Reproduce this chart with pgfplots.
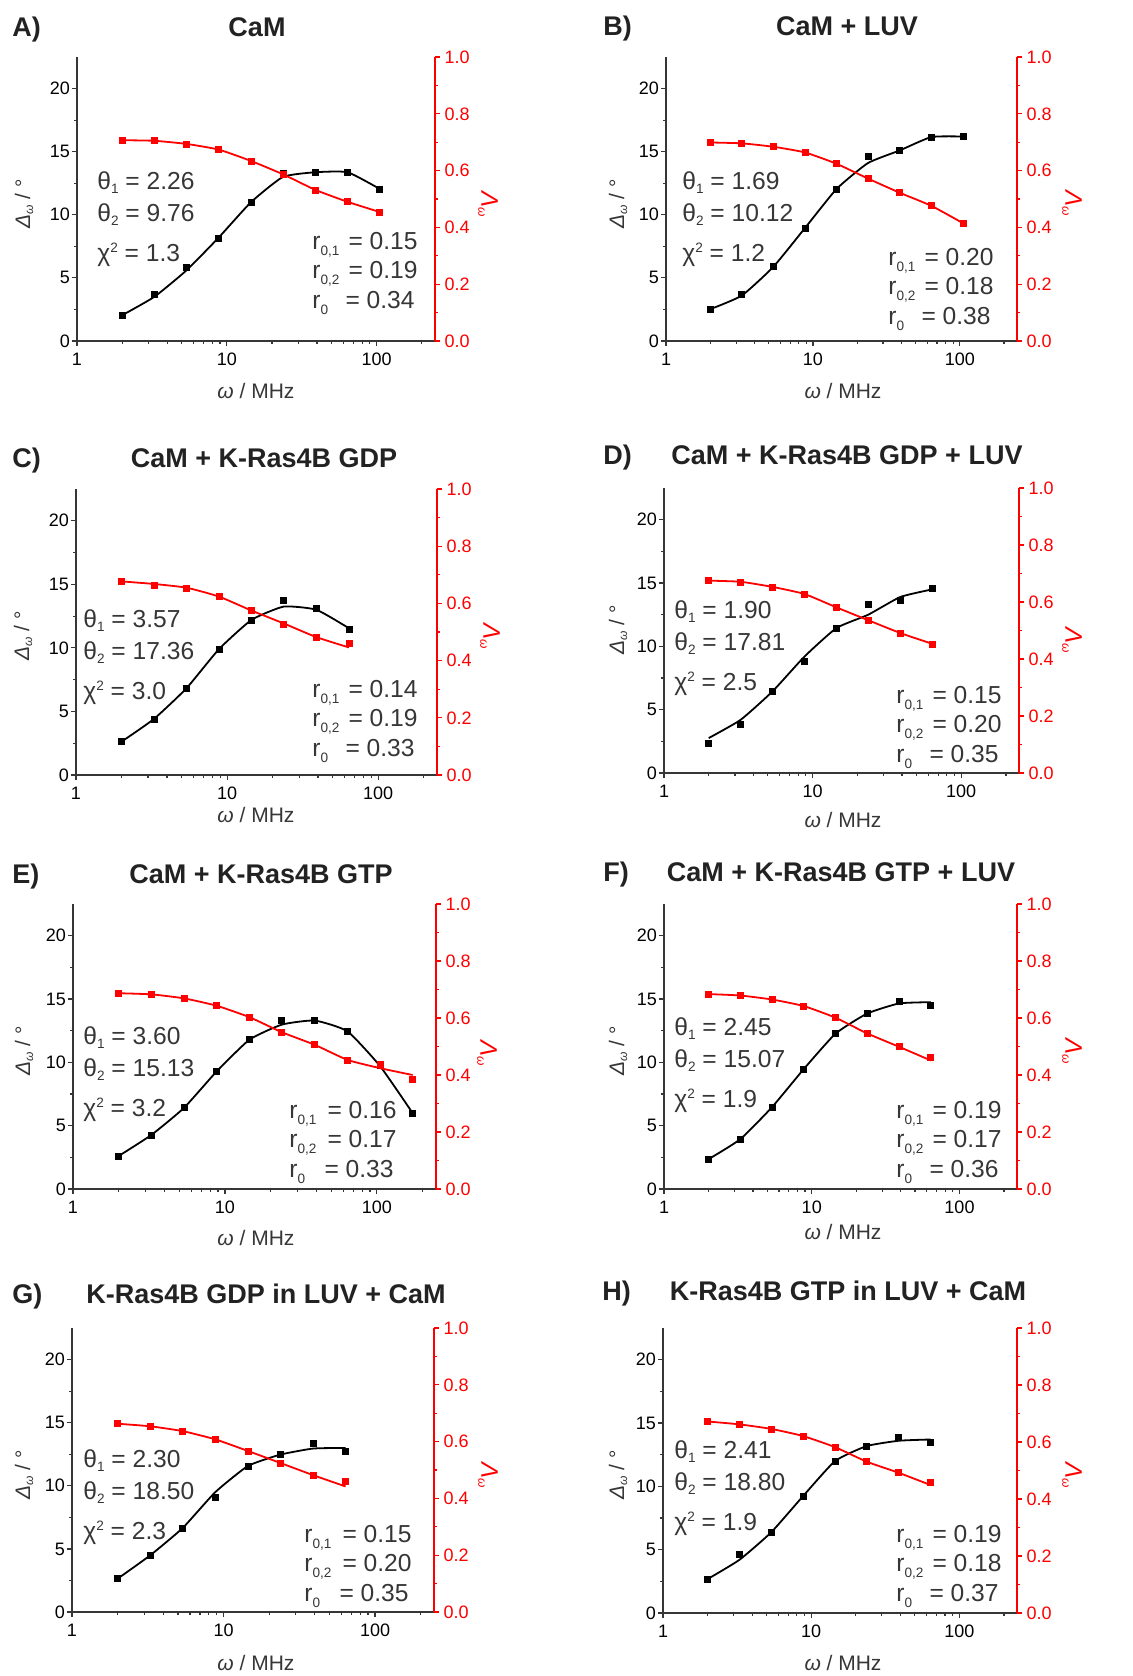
\documentclass[border=0pt]{standalone}
\usepackage{pgfplots}
\pgfplotsset{compat=1.18}
\usepackage{pgfplotstable}
\usepackage{fontspec}
\setmainfont{Liberation Sans}
\definecolor{txt}{HTML}{363636}
\definecolor{ttl}{HTML}{222222}
\definecolor{ored}{HTML}{FF0000}

% x: omega (MHz); bf/bd: Delta fit/data; rf/rd: Lambda fit/data
\pgfplotstableread{
x bf bd rf rd
2 2.04 2.04 0.707 0.707
3.28 3.5 3.66 0.705 0.705
5.38 5.6 5.8 0.694 0.694
8.83 8.2 8.1 0.674 0.674
14.5 11.0 10.98 0.634 0.634
23.7 13.0 13.26 0.587 0.587
39 13.37 13.37 0.532 0.532
64 13.37 13.37 0.49 0.49
105 12.04 12.04 0.454 0.454
}\dA
\pgfplotstableread{
x bf bd rf rd
2 2.52 2.52 0.699 0.699
3.28 3.6 3.7 0.696 0.696
5.38 5.88 5.88 0.684 0.684
8.83 8.95 8.95 0.664 0.664
14.5 12.05 12.05 0.624 0.624
23.7 14.1 14.6 0.572 0.572
39 15.1 15.1 0.522 0.522
64 16.16 16.16 0.476 0.476
105 16.2 16.2 0.415 0.415
}\dB
\pgfplotstableread{
x bf bd rf rd
2 2.62 2.62 0.677 0.677
3.28 4.41 4.41 0.668 0.663
5.38 6.82 6.82 0.655 0.652
8.83 9.9 9.9 0.624 0.624
14.5 12.2 12.2 0.575 0.575
23.7 13.25 13.7 0.530 0.527
39 13.0 13.07 0.482 0.482
64 11.55 11.44 0.446 0.459
}\dC
\pgfplotstableread{
x bf bd rf rd
2 2.76 2.32 0.675 0.675
3.28 4.2 3.84 0.671 0.669
5.38 6.45 6.47 0.653 0.651
8.83 9.2 8.82 0.628 0.628
14.5 11.45 11.4 0.581 0.581
23.7 12.5 13.34 0.536 0.536
39 13.9 13.63 0.491 0.491
64 14.5 14.55 0.453 0.453
}\dD
\pgfplotstableread{
x bf bd rf rd
2 2.61 2.61 0.687 0.687
3.28 4.27 4.27 0.683 0.683
5.38 6.41 6.41 0.669 0.669
8.83 9.29 9.29 0.643 0.643
14.5 11.79 11.79 0.603 0.603
23.7 12.98 13.3 0.550 0.550
39 13.3 13.3 0.506 0.506
64 12.45 12.45 0.453 0.451
105 9.7 9.76 0.424 0.439
172 5.99 5.99 0.400 0.383
}\dE
\pgfplotstableread{
x bf bd rf rd
2 2.35 2.35 0.684 0.684
3.28 3.93 3.93 0.679 0.679
5.38 6.46 6.46 0.665 0.665
8.83 9.47 9.47 0.642 0.642
14.5 12.27 12.27 0.601 0.601
23.7 13.85 13.85 0.546 0.546
39 14.65 14.78 0.499 0.499
64 14.75 14.51 0.451 0.461
}\dF
\pgfplotstableread{
x bf bd rf rd
2 2.64 2.64 0.663 0.663
3.28 4.49 4.49 0.654 0.654
5.38 6.66 6.66 0.637 0.637
8.83 9.5 9.11 0.608 0.608
14.5 11.57 11.57 0.567 0.567
23.7 12.47 12.47 0.525 0.525
39 12.95 13.34 0.482 0.482
64 13.0 12.76 0.442 0.459
}\dG
\pgfplotstableread{
x bf bd rf rd
2 2.68 2.68 0.672 0.672
3.28 4.2 4.59 0.662 0.662
5.38 6.38 6.38 0.646 0.646
8.83 9.24 9.24 0.621 0.621
14.5 12.0 12.0 0.582 0.582
23.7 13.18 13.18 0.531 0.531
39 13.6 13.86 0.492 0.492
64 13.7 13.46 0.449 0.459
}\dH

\newcommand\panel[5]{%
\begin{axis}[scale only axis, xmode=log, xmin=1, xmax=245, anchor=south west,
    at={(#1pt,#2pt)}, width=#3pt, height=#4pt,
    tick align=outside, clip=false,
    xtick={1,10,100}, xticklabels={1,10,100},
    minor xtick={2,3,4,5,6,7,8,9,20,30,40,50,60,70,80,90,200},
    tick label style={font=\fontsize{9}{10}\selectfont, black, inner sep=0.8pt},
    xticklabel style={yshift=-2.5pt},
    /pgf/number format/assume math mode=true,
    major tick length=2.6pt, minor tick length=1.5pt,
    axis line style={-, line width=0.7pt, txt},
    tick style={line width=0.6pt, txt},
    ymin=0, ymax=22.5, axis x line*=bottom, axis y line*=left,
    ytick={0,5,10,15,20}, minor ytick={2.5,7.5,12.5,17.5}]
 \addplot[black, line width=0.9pt, smooth, tension=0.3, no marks] table[x=x,y=bf]{#5};
 \addplot[only marks, mark=square*, mark size=1.5pt, black] table[x=x,y=bd]{#5};
\end{axis}
\begin{axis}[scale only axis, xmode=log, xmin=1, xmax=245, anchor=south west,
    at={(#1pt,#2pt)}, width=#3pt, height=#4pt,
    tick align=outside, clip=false,
    tick label style={font=\fontsize{9}{10}\selectfont, ored, inner sep=0.8pt},
    yticklabel style={xshift=1.2pt},
    /pgf/number format/assume math mode=true,
    /pgf/number format/fixed, /pgf/number format/fixed zerofill,
    /pgf/number format/precision=1,
    major tick length=2.6pt, minor tick length=1.5pt,
    axis line style={-, line width=0.7pt, ored},
    tick style={line width=0.6pt, ored},
    ymin=0, ymax=1, axis x line=none, axis y line*=right,
    ytick={0,0.2,0.4,0.6,0.8,1.0}, minor ytick={0.1,0.3,0.5,0.7,0.9}]
 \addplot[ored, line width=0.9pt, smooth, tension=0.3, no marks] table[x=x,y=rf]{#5};
 \addplot[only marks, mark=square*, mark size=1.5pt, ored] table[x=x,y=rd]{#5};
\end{axis}}

\newcommand\ann{\fontsize{12.3}{14}\selectfont}
\newcommand\lab{\fontsize{10.5}{12}\selectfont}
\newcommand\ttlf{\fontsize{13.5}{15}\selectfont\bfseries}
\newcommand\sbs[1]{\raisebox{-2.2pt}{\fontsize{6.8}{7}\selectfont #1}}
\newcommand\sbr[1]{\raisebox{-3pt}{\fontsize{6.8}{7}\selectfont #1}}
\newcommand\sps[1]{\raisebox{4.3pt}{\fontsize{6.8}{7}\selectfont #1}}

% left block: x, baseline, t1, t2, chi
\newcommand\lblock[5]{%
 \node[anchor=base west, inner sep=0, txt, font=\ann] at (#1,#2) {θ\sbs{1} = #3};
 \node[anchor=base west, inner sep=0, txt, font=\ann] at (#1,#2+32) {θ\sbs{2} = #4};
 \node[anchor=base west, inner sep=0, txt, font=\ann] at (#1,#2+72) {χ\sps{2} = #5};}
% right block: x, baseline, xright, a, b, c
\newcommand\rblock[6]{%
 \node[anchor=base west, inner sep=0, txt, font=\ann] at (#1,#2) {r\sbr{0,1}};
 \node[anchor=base east, inner sep=0, txt, font=\ann] at (#3,#2) {= #4};
 \node[anchor=base west, inner sep=0, txt, font=\ann] at (#1,#2+29.5) {r\sbr{0,2}};
 \node[anchor=base east, inner sep=0, txt, font=\ann] at (#3,#2+29.5) {= #5};
 \node[anchor=base west, inner sep=0, txt, font=\ann] at (#1,#2+59) {r\sbr{0}};
 \node[anchor=base east, inner sep=0, txt, font=\ann] at (#3-3,#2+59) {= #6};}
% title: letter x, center x, baseline, letter, text
\newcommand\ptitle[5]{%
 \node[anchor=base west, inner sep=0, ttl, font=\ttlf] at (#1,#3) {#4};
 \node[anchor=base, inner sep=0, ttl, font=\ttlf] at (#2,#3) {#5};}
% axis labels: xlabel cx, baseline; ylabel x,y; right label x,y
\newcommand\alabels[6]{%
 \node[anchor=base, inner sep=0, txt, font=\lab] at (#1,#2) {\textit{ω} / MHz};
 \node[rotate=90, inner sep=0, txt, font=\lab] at (#3,#4) {\textit{Δ}\raisebox{-1.5pt}{\fontsize{6}{7}\selectfont\textit{ω}} / °};
 \node[rotate=-90, inner sep=0, ored, font=\fontsize{12}{13}\selectfont] at (#5,#6) {\textit{Λ}\raisebox{-1.5pt}{\fontsize{6}{7}\selectfont\textit{ω}}};}

\begin{document}
\begin{tikzpicture}
\panel{38.5}{-170.5}{179}{142}{\dA}
\panel{333}{-170.5}{175.5}{142}{\dB}
\panel{38}{-387.5}{180.5}{143}{\dC}
\panel{332}{-386.5}{177.5}{142.5}{\dD}
\panel{36.5}{-594.5}{181.5}{142.5}{\dE}
\panel{332}{-594.5}{176.5}{142.5}{\dF}
\panel{36}{-806}{181}{142}{\dG}
\panel{331.5}{-806.5}{177}{142.5}{\dH}

\begin{scope}[x=0.5pt,y=-0.5pt]
\ptitle{12}{257}{36}{A)}{CaM}
\ptitle{603}{847}{35}{B)}{CaM + LUV}
\ptitle{12}{264}{467}{C)}{CaM + K-Ras4B GDP}
\ptitle{603}{847}{464}{D)}{CaM + K-Ras4B GDP + LUV}
\ptitle{12}{261}{883}{E)}{CaM + K-Ras4B GTP}
\ptitle{603}{841}{881}{F)}{CaM + K-Ras4B GTP + LUV}
\ptitle{12}{266}{1303}{G)}{K-Ras4B GDP in LUV + CaM}
\ptitle{602}{848}{1300}{H)}{K-Ras4B GTP in LUV + CaM}

\lblock{97}{189}{2.26}{9.76}{1.3}
\rblock{312}{249}{418}{0.15}{0.19}{0.34}
\lblock{682}{189}{1.69}{10.12}{1.2}
\rblock{888}{265}{994}{0.20}{0.18}{0.38}
\lblock{83}{627}{3.57}{17.36}{3.0}
\rblock{312}{697}{418}{0.14}{0.19}{0.33}
\lblock{674}{618}{1.90}{17.81}{2.5}
\rblock{896}{703}{1002}{0.15}{0.20}{0.35}
\lblock{83}{1044}{3.60}{15.13}{3.2}
\rblock{289}{1118}{397}{0.16}{0.17}{0.33}
\lblock{674}{1035}{2.45}{15.07}{1.9}
\rblock{896}{1118}{1002}{0.19}{0.17}{0.36}
\lblock{83}{1467}{2.30}{18.50}{2.3}
\rblock{304}{1542}{412}{0.15}{0.20}{0.35}
\lblock{674}{1458}{2.41}{18.80}{1.9}
\rblock{896}{1542}{1002}{0.19}{0.18}{0.37}

\alabels{256}{398}{24}{204}{488}{204}
\alabels{843}{398}{618}{204}{1072}{203}
\alabels{256}{822}{23}{636}{490}{636}
\alabels{843}{827}{618}{630}{1072}{640}
\alabels{256}{1245}{24}{1051}{487}{1053}
\alabels{843}{1239}{618}{1051}{1072}{1051}
\alabels{256}{1670}{24}{1475}{488}{1475}
\alabels{843}{1670}{618}{1475}{1072}{1475}
\end{scope}
\pgfresetboundingbox
\useasboundingbox (0,0) rectangle (566.5pt,-838pt);
\end{tikzpicture}
\end{document}
